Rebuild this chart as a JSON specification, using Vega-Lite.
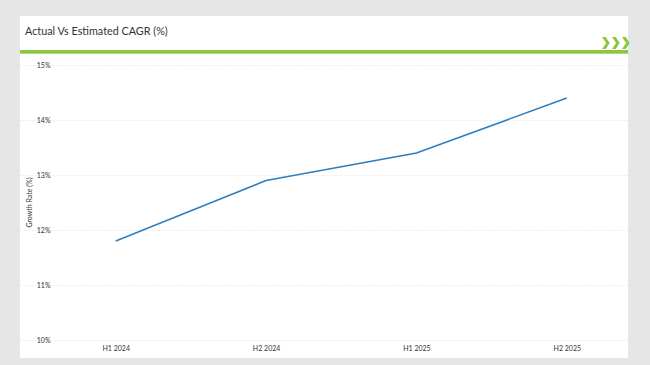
{
  "$schema": "https://vega.github.io/schema/vega-lite/v6.json",
  "width": 608,
  "height": 342,
  "autosize": {"type": "none"},
  "padding": {"left": 20, "top": 16, "right": 22, "bottom": 7},
  "background": "#e6e6e6",
  "config": {
    "view": {"fill": "white", "stroke": null},
    "font": "Lato"
  },
  "title": {
    "text": "Actual Vs Estimated CAGR (%)",
    "anchor": "start",
    "frame": "group",
    "offset": -30,
    "dx": 5,
    "baseline": "alphabetic",
    "fontSize": 10.8,
    "fontWeight": "normal",
    "color": "#333333",
    "font": "Lato"
  },
  "data": {
    "values": [
      {"period": "H1 2024", "growth": 11.8},
      {"period": "H2 2024", "growth": 12.9},
      {"period": "H1 2025", "growth": 13.4},
      {"period": "H2 2025", "growth": 14.4}
    ]
  },
  "layer": [
    {
      "mark": {"type": "line", "color": "#2e7ebf", "strokeWidth": 1.6},
      "encoding": {
        "x": {
          "field": "period",
          "type": "ordinal",
          "sort": null,
          "scale": {"type": "point", "padding": 0.522, "align": 0.61},
          "axis": {
            "title": null,
            "labelAngle": 0,
            "ticks": false,
            "domain": false,
            "grid": false,
            "offset": -16,
            "labelPadding": 2,
            "labelFontSize": 7,
            "labelColor": "#333333",
            "labelBaseline": "top"
          }
        },
        "y": {
          "field": "growth",
          "type": "quantitative",
          "scale": {"domain": [9.673, 15.891], "nice": false, "zero": false},
          "axis": {
            "title": "Growth Rate (%)",
            "titleFontSize": 7,
            "titleFontWeight": "normal",
            "titleColor": "#333333",
            "titlePadding": 4,
            "titleY": 186,
            "values": [10, 11, 12, 13, 14, 15],
            "labelExpr": "datum.value + '%'",
            "ticks": false,
            "domain": false,
            "offset": -32,
            "labelPadding": 2,
            "labelFontSize": 7,
            "labelColor": "#333333",
            "gridColor": "#d9d9d9",
            "gridDash": [1, 2],
            "gridWidth": 0.8
          }
        }
      }
    },
    {
      "mark": {"type": "rule", "color": "#8cc63f", "strokeWidth": 3},
      "encoding": {"y": {"datum": 15.24}}
    },
    {
      "mark": {"type": "text", "text": "❯❯❯", "color": "#8cc63f", "font": "DejaVu Sans", "fontWeight": "bold", "fontSize": 12, "letterSpacing": -1, "align": "center", "baseline": "middle", "dx": 49},
      "encoding": {"x": {"datum": "H2 2025"}, "y": {"datum": 15.418}}
    }
  ]
}
